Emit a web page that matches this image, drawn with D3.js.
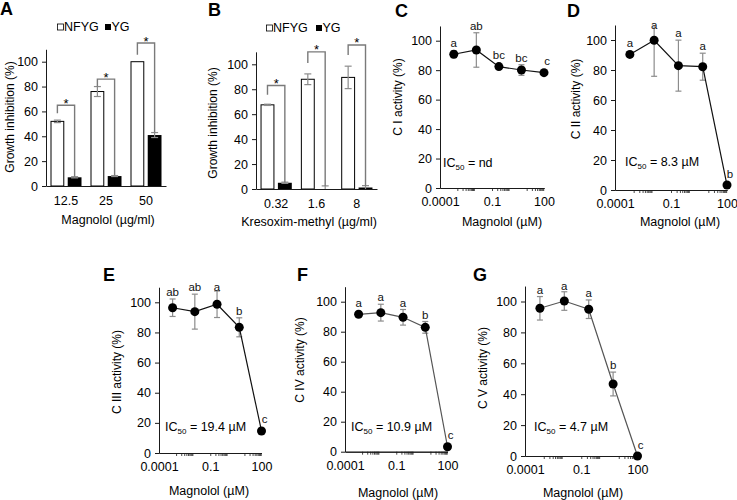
<!DOCTYPE html>
<html><head><meta charset="utf-8">
<script src="https://cdn.jsdelivr.net/npm/d3@7"></script>
<style>body{margin:0;background:#fff} svg{display:block}</style>
</head><body><svg id="c" width="737" height="500"></svg>
<script>
const FONT = 'Arial, "Liberation Sans", sans-serif';
const yTickVals = [0, 20, 40, 60, 80, 100];
const seriesNames = ["NFYG", "YG"];

// Panel A
const catsA = ["12.5", "25", "50"];
const nfygA = [52, 76, 100];
const nfygErrA = [1, 4, 0];
const ygA = [7, 8, 41];
const ygErrA = [0.5, 0.4, 2];
const sigTopA = [65, 86, 115];
const sigLegA = [58.5, 80, 105.5];

// Panel B
const catsB = ["0.32", "1.6", "8"];
const nfygB = [67.5, 88, 89.5];
const nfygErrB = [0.5, 4.3, 9];
const ygB = [5, 0, 1.2];
const ygErrB = [0.5, 2.5, 1.5];
const sigTopB = [83, 110, 115.5];
const sigLegB = [75.5, 101, 107.5];

// Panels C-G
const conc = [0.000625, 0.0125, 0.25, 5, 100];
const logTickVals = [0.0001, 0.1, 100];
const logTickLabels = ["0.0001", "0.1", "100"];
const minorDecades = [-3, -1, 1];
const minorSteps = [1, 2, 3, 4, 5, 6, 7, 8, 9];

const actC = [90.8, 93.7, 82.4, 80.1, 78.3];
const errC = [2.3, 11.7, 1, 3.6, 1];
const letC = ["a", "ab", "bc", "bc", "c"];
const actD = [90.4, 99.8, 82.9, 82.2, 3.3];
const errD = [0.5, 24, 17, 9, 0.5];
const letD = ["a", "a", "a", "a", "b"];
const actE = [96.4, 93.8, 98.7, 83.4, 14.6];
const errE = [5.8, 11.6, 8.8, 6.3, 0.5];
const letE = ["ab", "ab", "a", "b", "c"];
const actF = [91.6, 92.7, 89.6, 82.9, 3.3];
const errF = [1, 5.6, 5.2, 3.9, 0.5];
const letF = ["a", "a", "a", "b", "c"];
const actG = [95.6, 100.3, 95, 46.6, 0];
const errG = [7.6, 6, 6, 7.7, 0.5];
const letG = ["a", "a", "a", "b", "c"];

const svg = d3.select("#c");
svg.append("rect").attr("width", 737).attr("height", 500).attr("fill", "#fff");

const AXIS = "#1a1a1a", ERR = "#8c8c8c", BRK = "#7a7a7a";

function yScaleFor(L) {
  return d3.scaleLinear().domain([0, 110]).range([L.y0, L.y0 - (L.y0 - L.y100) * 1.1]);
}
function styleAxis(ax, fs) {
  ax.attr("font-family", FONT).attr("font-size", fs);
  ax.selectAll("path,line").attr("stroke", AXIS);
  ax.selectAll("text").attr("fill", "#000");
}
function common(L, y) {
  const ax = svg.append("g").attr("transform", `translate(${L.x0},0)`)
    .call(d3.axisLeft(y).tickValues(yTickVals).tickSize(4).tickSizeOuter(0).tickPadding(4));
  styleAxis(ax, 12.5);
  svg.append("text").attr("x", L.lx).attr("y", L.ly).attr("font-family", FONT)
    .attr("font-weight", "bold").attr("font-size", 18).text(L.letter);
  svg.append("text").attr("transform", `translate(${L.ytx},${L.yty}) rotate(-90)`)
    .attr("text-anchor", "middle").attr("dy", "0.35em").attr("font-family", FONT)
    .attr("font-size", 12).text(L.yTitle);
  svg.append("text").attr("x", L.xtx).attr("y", L.xty).attr("text-anchor", "middle")
    .attr("dy", "0.35em").attr("font-family", FONT).attr("font-size", 12.5).text(L.xTitle);
}
function errBar(g, cx, y, v, e, capW) {
  if (e <= 0) return;
  const lo = Math.max(0, v - e), hi = Math.min(110, v + e);
  g.append("line").attr("x1", cx).attr("x2", cx).attr("y1", y(lo)).attr("y2", y(hi))
    .attr("stroke", ERR).attr("stroke-width", 1.2);
  if (v + e <= 110) g.append("line").attr("x1", cx - capW / 2).attr("x2", cx + capW / 2)
    .attr("y1", y(hi)).attr("y2", y(hi)).attr("stroke", ERR).attr("stroke-width", 1.2);
  if (v - e >= 0) g.append("line").attr("x1", cx - capW / 2).attr("x2", cx + capW / 2)
    .attr("y1", y(lo)).attr("y2", y(lo)).attr("stroke", ERR).attr("stroke-width", 1.2);
}

function barPanel(L, cats, s1, e1, s2, e2, sigTop, sigLeg) {
  const y = yScaleFor(L);
  const x = d3.scaleBand().domain(cats).range([L.x0, L.x1]).paddingInner(0.225).paddingOuter(0.1125);
  const xs = d3.scaleBand().domain(seriesNames).range([0, x.bandwidth()]).paddingInner(0.2);
  const g = svg.append("g");
  const rows = cats.map((c, i) => ({ c, v1: s1[i], e1: e1[i], v2: s2[i], e2: e2[i], top: sigTop[i], leg: sigLeg[i] }));
  g.selectAll("rect.n").data(rows).join("rect")
    .attr("x", d => x(d.c) + xs("NFYG") + 0.5).attr("y", d => y(d.v1))
    .attr("width", xs.bandwidth() - 1).attr("height", d => y(0) - y(d.v1))
    .attr("fill", "#fff").attr("stroke", "#000").attr("stroke-width", 1);
  g.selectAll("rect.y").data(rows).join("rect")
    .attr("x", d => x(d.c) + xs("YG")).attr("y", d => y(d.v2))
    .attr("width", xs.bandwidth()).attr("height", d => y(0) - y(d.v2)).attr("fill", "#000");
  rows.forEach(d => {
    const c1 = x(d.c) + xs("NFYG") + xs.bandwidth() / 2;
    const c2 = x(d.c) + xs("YG") + xs.bandwidth() / 2;
    errBar(g, c1, y, d.v1, d.e1, 7);
    errBar(g, c2, y, d.v2, d.e2, 7);
    g.append("path").attr("d", `M${c1},${y(d.leg)}V${y(d.top)}H${c2}V${y(d.v2 + d.e2)}`)
      .attr("fill", "none").attr("stroke", BRK).attr("stroke-width", 1.4);
    g.append("text").attr("x", (c1 + c2) / 2).attr("y", y(d.top) + 2.5).attr("text-anchor", "middle")
      .attr("font-family", FONT).attr("font-size", 13).text("*");
  });
  const ax = svg.append("g").attr("transform", `translate(0,${L.y0})`)
    .call(d3.axisBottom(x).tickSize(0).tickSizeOuter(0).tickPadding(10));
  styleAxis(ax, 12.5);
  common(L, y);
  // legend
  const lg = svg.append("g").attr("font-family", FONT).attr("font-size", 12.5);
  lg.append("rect").attr("x", L.leg[0] + 0.5).attr("y", L.legY - 3).attr("width", 6).attr("height", 6)
    .attr("fill", "#fff").attr("stroke", "#000").attr("stroke-width", 0.8);
  lg.append("text").attr("x", L.leg[0] + 7).attr("y", L.legY).attr("dy", "0.35em").text(seriesNames[0]);
  lg.append("rect").attr("x", L.leg[1]).attr("y", L.legY - 3).attr("width", 6).attr("height", 6).attr("fill", "#000");
  lg.append("text").attr("x", L.leg[1] + 6.5).attr("y", L.legY).attr("dy", "0.35em").text(seriesNames[1]);
}

function logPanel(L, vals, errs, letters, ic50, lineColor) {
  const y = yScaleFor(L);
  const x = d3.scaleLog().domain([0.0001, 100]).range([L.x0, L.x1]);
  const minor = minorDecades.flatMap(k => minorSteps.map(j => j * Math.pow(10, k)));
  const axm = svg.append("g").attr("transform", `translate(0,${L.y0})`)
    .call(d3.axisBottom(x).tickValues(minor).tickSize(3).tickSizeOuter(0).tickFormat(""));
  styleAxis(axm, 12.5);
  axm.selectAll("line").attr("stroke-width", 0.8);
  const ax = svg.append("g").attr("transform", `translate(0,${L.y0})`)
    .call(d3.axisBottom(x).tickValues(logTickVals).tickFormat((d, i) => logTickLabels[i])
      .tickSize(0).tickSizeOuter(0).tickPadding(9));
  styleAxis(ax, 12.5);
  common(L, y);
  const pts = conc.map((c, i) => ({ c, v: vals[i], e: errs[i], t: letters[i], i }));
  const g = svg.append("g");
  pts.forEach(d => errBar(g, x(d.c), y, d.v, d.e, 6));
  g.append("path").datum(pts).attr("d", d3.line().x(d => x(d.c)).y(d => y(d.v)))
    .attr("fill", "none").attr("stroke", lineColor).attr("stroke-width", 1.2);
  g.selectAll("circle").data(pts).join("circle").attr("cx", d => x(d.c)).attr("cy", d => y(d.v))
    .attr("r", 4.5).attr("fill", "#000");
  g.selectAll("text.l").data(pts).join("text")
    .attr("x", d => x(d.c) + (d.i === pts.length - 1 ? 3 : 0))
    .attr("y", d => {
      const top = Math.min(y(Math.min(d.v + d.e, 110)), y(d.v) - 4.5);
      return Math.max(top - 3, y(110) + 4);
    })
    .attr("text-anchor", "middle").attr("font-family", FONT).attr("font-size", 11.5)
    .attr("fill", "#111").text(d => d.t);
  const t = svg.append("text").attr("x", L.icx).attr("y", L.icy).attr("dy", "0.35em")
    .attr("font-family", FONT).attr("font-size", 12.5);
  t.append("tspan").text("IC");
  t.append("tspan").attr("font-size", 8).attr("dy", "3").text("50");
  t.append("tspan").attr("dy", "-3").text(" = " + ic50);
}

const LA = { x0: 46, x1: 166, y0: 186, y100: 61.7, ytx: 10, yty: 117, xtx: 108, xty: 220, lx: 0, ly: 15,
  letter: "A", yTitle: "Growth inhibition (%)", xTitle: "Magnolol (µg/ml)", leg: [57, 105], legY: 27 };
const LB = { x0: 256, x1: 377, y0: 189, y100: 64.3, ytx: 213, yty: 123, xtx: 309, xty: 222, lx: 208, ly: 16,
  letter: "B", yTitle: "Growth inhibition (%)", xTitle: "Kresoxim-methyl (µg/ml)", leg: [266, 316], legY: 28 };
const LC = { x0: 440, x1: 544, y0: 188, y100: 40.7, ytx: 398, yty: 97, xtx: 502, xty: 222, lx: 395, ly: 17,
  letter: "C", yTitle: "C I activity (%)", xTitle: "Magnolol (µM)", icx: 443, icy: 163 };
const LD = { x0: 615, x1: 727, y0: 190, y100: 40, ytx: 576, yty: 99, xtx: 680, xty: 222, lx: 567, ly: 17,
  letter: "D", yTitle: "C II activity (%)", xTitle: "Magnolol (µM)", icx: 625, icy: 162 };
const LE = { x0: 159, x1: 261.5, y0: 453, y100: 302.3, ytx: 117, yty: 372, xtx: 209, xty: 491, lx: 103, ly: 281,
  letter: "E", yTitle: "C III activity (%)", xTitle: "Magnolol (µM)", icx: 165, icy: 427 };
const LF = { x0: 345, x1: 447.5, y0: 451.7, y100: 301.7, ytx: 300, yty: 360, xtx: 398, xty: 493, lx: 297, ly: 281,
  letter: "F", yTitle: "C IV activity (%)", xTitle: "Magnolol (µM)", icx: 351, icy: 427 };
const LG = { x0: 525, x1: 637.5, y0: 456, y100: 301.5, ytx: 483, yty: 368, xtx: 583, xty: 493, lx: 473, ly: 281,
  letter: "G", yTitle: "C V activity (%)", xTitle: "Magnolol (µM)", icx: 534, icy: 427 };

barPanel(LA, catsA, nfygA, nfygErrA, ygA, ygErrA, sigTopA, sigLegA);
barPanel(LB, catsB, nfygB, nfygErrB, ygB, ygErrB, sigTopB, sigLegB);
logPanel(LC, actC, errC, letC, "nd", "#111");
logPanel(LD, actD, errD, letD, "8.3 µM", "#111");
logPanel(LE, actE, errE, letE, "19.4 µM", "#111");
logPanel(LF, actF, errF, letF, "10.9 µM", "#555");
logPanel(LG, actG, errG, letG, "4.7 µM", "#555");
</script></body></html>
